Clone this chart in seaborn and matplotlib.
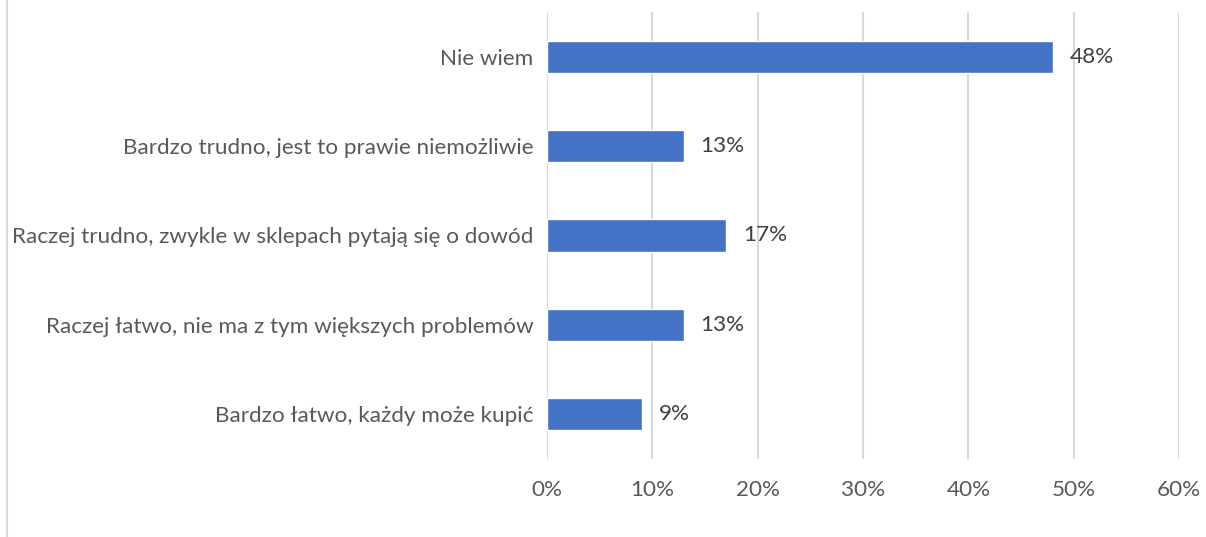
import matplotlib
matplotlib.use('Agg')
import matplotlib.pyplot as plt
import seaborn as sns
import pandas as pd
from matplotlib.lines import Line2D

categorias = [
    'Nie wiem',
    'Bardzo trudno, jest to prawie niemożliwie',
    'Raczej trudno, zwykle w sklepach pytają się o dowód',
    'Raczej łatwo, nie ma z tym większych problemów',
    'Bardzo łatwo, każdy może kupić',
]
wartosci = [48, 13, 17, 13, 9]
ticks_x = [0, 10, 20, 30, 40, 50, 60]

df = pd.DataFrame({'kategoria': categorias, 'procent': wartosci})

sns.set_style('white')
plt.rcParams['font.family'] = ['Lato', 'DejaVu Sans']

fig = plt.figure(figsize=(12.06, 5.37), dpi=100)
ax = fig.add_axes([0.4536, 0.1453, 0.524, 0.8325])

sns.barplot(data=df, x='procent', y='kategoria', color='#4472C4', saturation=1,
            width=0.36, ax=ax, zorder=3)

rozmiar = 16.2
ax.set_xlim(0, 60)
ax.set_xticks(ticks_x)
ax.set_xticklabels([f'{t}%' for t in ticks_x], fontsize=rozmiar, color='#595959')
ax.tick_params(axis='x', length=0, pad=15)
ax.tick_params(axis='y', length=0, pad=10, labelsize=rozmiar, labelcolor='#595959')
ax.grid(axis='x', color='#d9d9d9', linewidth=1.5, zorder=0)
ax.grid(axis='y', visible=False)
ax.set_xlabel('')
ax.set_ylabel('')
for s in ax.spines.values():
    s.set_visible(False)

for cont in ax.containers:
    ax.bar_label(cont, labels=[f'{v}%' for v in wartosci], padding=12,
                 fontsize=rozmiar, color='#404040')

# ramka po lewej stronie
fig.add_artist(Line2D([0.0058, 0.0058], [0, 1], transform=fig.transFigure,
                      color='#d9d9d9', linewidth=1.5))

fig.savefig('out.png', dpi=100)
